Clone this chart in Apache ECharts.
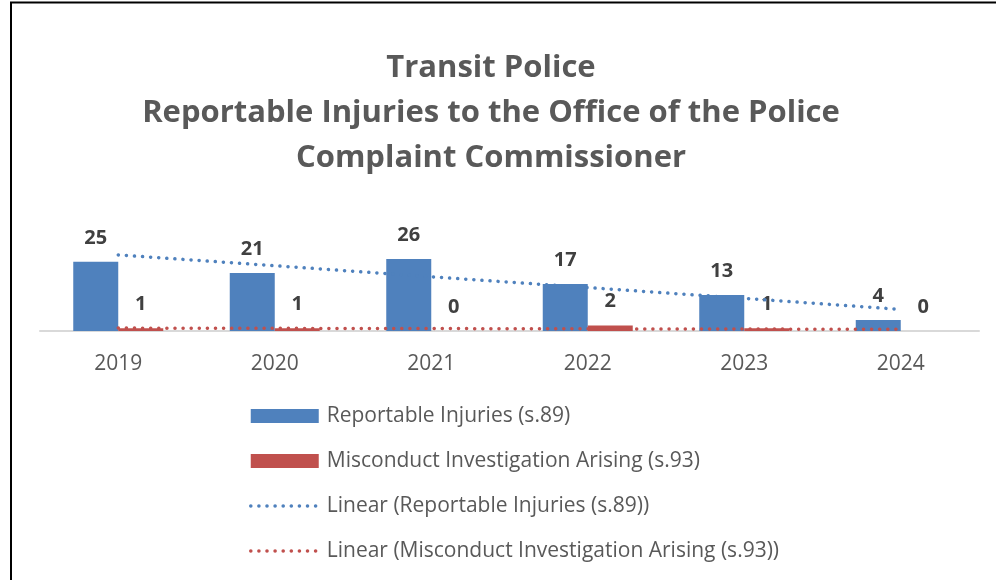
<!DOCTYPE html>
<html>
<head>
<meta charset="utf-8">
<script src="https://cdn.jsdelivr.net/npm/echarts@6/dist/echarts.min.js"></script>
<style>
  html, body { margin: 0; padding: 0; background: #fff; }
  #chart { width: 996px; height: 580px; }
</style>
</head>
<body>
<div id="chart"></div>
<script>
// 年份
const years = ['2019', '2020', '2021', '2022', '2023', '2024']
// Reportable Injuries (s.89)
const injuries = [25, 21, 26, 17, 13, 4]
// Misconduct Investigation Arising (s.93)
const misconduct = [1, 1, 0, 2, 1, 0]
// linear trendlines
const injuriesTrend = [27.5, 23.6, 19.6, 15.7, 11.8, 7.8]
const misconductTrend = [1.05, 0.96, 0.88, 0.79, 0.70, 0.62]

const FONT = 'Open Sans'
const BLUE = '#4f81bd'
const RED = '#c0504d'

const myChart = echarts.init(document.getElementById('chart'))

const barLabel = {
  show: true,
  position: 'top',
  distance: 14,
  fontFamily: FONT,
  fontSize: 20,
  fontWeight: 'bold',
  color: '#404040'
}

const dotLine = (color) => ({ color: color, width: 3.5, type: [0.1, 8], cap: 'round' })

myChart.setOption({
  animation: false,
  backgroundColor: '#fff',
  graphic: [{
    type: 'rect',
    shape: { x: 11, y: 2.5, width: 1000, height: 600 },
    style: { fill: 'none', stroke: '#000', lineWidth: 2 },
    silent: true
  }],
  title: {
    text: 'Transit Police\nReportable Injuries to the Office of the Police\nComplaint Commissioner',
    left: 486,
    top: 41,
    textAlign: 'center',
    textStyle: {
      fontFamily: FONT,
      fontSize: 31,
      fontWeight: 'bold',
      color: '#595959',
      lineHeight: 45
    }
  },
  legend: {
    orient: 'vertical',
    left: 249,
    top: 405,
    padding: 0,
    itemWidth: 68,
    itemHeight: 14,
    itemGap: 23,
    textStyle: {
      fontFamily: FONT,
      fontSize: 21,
      color: '#595959',
      lineHeight: 22,
      padding: [0, 0, 0, 3]
    },
    data: [
      { name: 'Reportable Injuries (s.89)', icon: 'rect' },
      { name: 'Misconduct Investigation Arising (s.93)', icon: 'rect' },
      {
        name: 'Linear (Reportable Injuries (s.89))',
        itemStyle: { color: 'rgba(0,0,0,0)' },
        lineStyle: dotLine(BLUE)
      },
      {
        name: 'Linear (Misconduct Investigation Arising (s.93))',
        itemStyle: { color: 'rgba(0,0,0,0)' },
        lineStyle: dotLine(RED)
      }
    ]
  },
  grid: {
    left: 40,
    right: 17,
    top: 248,
    bottom: 249
  },
  xAxis: {
    type: 'category',
    data: years,
    axisTick: { show: false },
    axisLine: { lineStyle: { color: '#d9d9d9', width: 2 } },
    axisLabel: {
      margin: 23,
      fontFamily: FONT,
      fontSize: 21,
      color: '#595959'
    }
  },
  yAxis: {
    type: 'value',
    min: 0,
    max: 30,
    show: false,
    splitLine: { show: false }
  },
  series: [{
    name: 'Reportable Injuries (s.89)',
    type: 'bar',
    barWidth: 45,
    barGap: '0%',
    data: injuries,
    itemStyle: { color: BLUE },
    label: barLabel
  }, {
    name: 'Misconduct Investigation Arising (s.93)',
    type: 'bar',
    barWidth: 45,
    barGap: '0%',
    data: misconduct,
    itemStyle: { color: RED },
    label: barLabel
  }, {
    name: 'Linear (Reportable Injuries (s.89))',
    type: 'line',
    data: injuriesTrend,
    symbol: 'none',
    itemStyle: { color: BLUE },
    lineStyle: dotLine(BLUE),
    z: 5
  }, {
    name: 'Linear (Misconduct Investigation Arising (s.93))',
    type: 'line',
    data: misconductTrend,
    symbol: 'none',
    itemStyle: { color: RED },
    lineStyle: dotLine(RED),
    z: 5
  }]
})

window.addEventListener('resize', () => {
  myChart.resize()
}, false)
</script>
</body>
</html>
